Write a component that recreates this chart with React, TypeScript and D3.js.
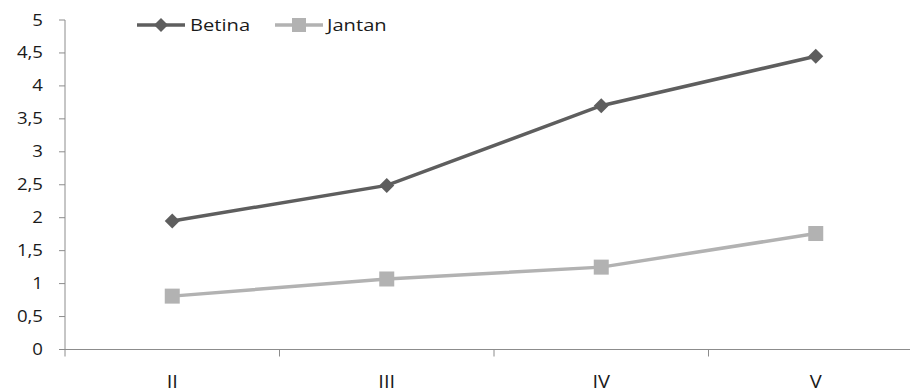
import React from "react";
import * as d3 from "d3";

const categories = ["II", "III", "IV", "V"];
const betina = [1.95, 2.49, 3.7, 4.45];
const jantan = [0.81, 1.07, 1.25, 1.76];
const yTicks = [0, 0.5, 1, 1.5, 2, 2.5, 3, 3.5, 4, 4.5, 5];

const W = 913;
const H = 392;
const left = 65;
const right = 923;
const top = 20;
const bottom = 349.5;

const darkColor = "#5e5e5e";
const lightColor = "#b2b2b2";
const axisColor = "#8c8c8c";
const textColor = "#1a1a1a";
const font = "'Open Sans', sans-serif";

// Text drawn with a horizontal stretch, anchored at (x, y).
function Label(props: {
  x: number;
  y: number;
  size: number;
  sx: number;
  anchor: "start" | "middle" | "end";
  children: React.ReactNode;
}) {
  const { x, y, size, sx, anchor, children } = props;
  return (
    <text
      transform={`translate(${x},${y}) scale(${sx},1)`}
      textAnchor={anchor}
      fontFamily={font}
      fontSize={size}
      fontWeight={500}
      fill={textColor}
    >
      {children}
    </text>
  );
}

export default function App() {
  const x = d3.scaleBand<string>().domain(categories).range([left, right]);
  const y = d3.scaleLinear().domain([0, 5]).range([bottom, top]);
  const cx = (c: string) => (x(c) ?? 0) + x.bandwidth() / 2;

  const line = d3
    .line<number>()
    .x((_, i) => cx(categories[i]))
    .y((v) => y(v));

  const fmt = (v: number) => String(v).replace(".", ",");
  const diamond = (px: number, py: number, r: number) =>
    `M${px},${py - r}L${px + r},${py}L${px},${py + r}L${px - r},${py}Z`;

  return (
    <svg
      width={W}
      height={H}
      style={{ position: "absolute", left: 0, top: 0, background: "#fff" }}
    >
      {/* y axis */}
      <line x1={left} x2={left} y1={top} y2={bottom} stroke={axisColor} strokeWidth={1} />
      {yTicks.map((t) => (
        <g key={t}>
          <line x1={left - 6} x2={left} y1={y(t)} y2={y(t)} stroke={axisColor} />
          <Label x={43} y={y(t) + 5.5} size={15.5} sx={1.2} anchor="end">
            {fmt(t)}
          </Label>
        </g>
      ))}

      {/* x axis */}
      <line x1={left} x2={910} y1={bottom} y2={bottom} stroke={axisColor} strokeWidth={1} />
      {categories.map((c) => (
        <line
          key={c}
          x1={x(c)}
          x2={x(c)}
          y1={bottom}
          y2={bottom + 7}
          stroke={axisColor}
        />
      ))}
      {categories.map((c) => (
        <Label key={c} x={cx(c)} y={387.5} size={17.5} sx={1.15} anchor="middle">
          {c}
        </Label>
      ))}

      {/* Jantan series */}
      <path d={line(jantan) ?? ""} fill="none" stroke={lightColor} strokeWidth={3.5} />
      {jantan.map((v, i) => (
        <rect
          key={i}
          x={cx(categories[i]) - 7.5}
          y={y(v) - 7.5}
          width={15}
          height={15}
          fill={lightColor}
        />
      ))}

      {/* Betina series */}
      <path d={line(betina) ?? ""} fill="none" stroke={darkColor} strokeWidth={3.5} />
      {betina.map((v, i) => (
        <path key={i} d={diamond(cx(categories[i]), y(v), 7.5)} fill={darkColor} />
      ))}

      {/* legend */}
      <g>
        <line x1={137} x2={185} y1={25} y2={25} stroke={darkColor} strokeWidth={3.5} />
        <path d={diamond(161, 25, 7)} fill={darkColor} />
        <Label x={190} y={31} size={15.5} sx={1.3} anchor="start">
          Betina
        </Label>
        <line x1={275} x2={323} y1={25} y2={25} stroke={lightColor} strokeWidth={3.5} />
        <rect x={292} y={18} width={14} height={14} fill={lightColor} />
        <Label x={327} y={31} size={15.5} sx={1.3} anchor="start">
          Jantan
        </Label>
      </g>
    </svg>
  );
}
